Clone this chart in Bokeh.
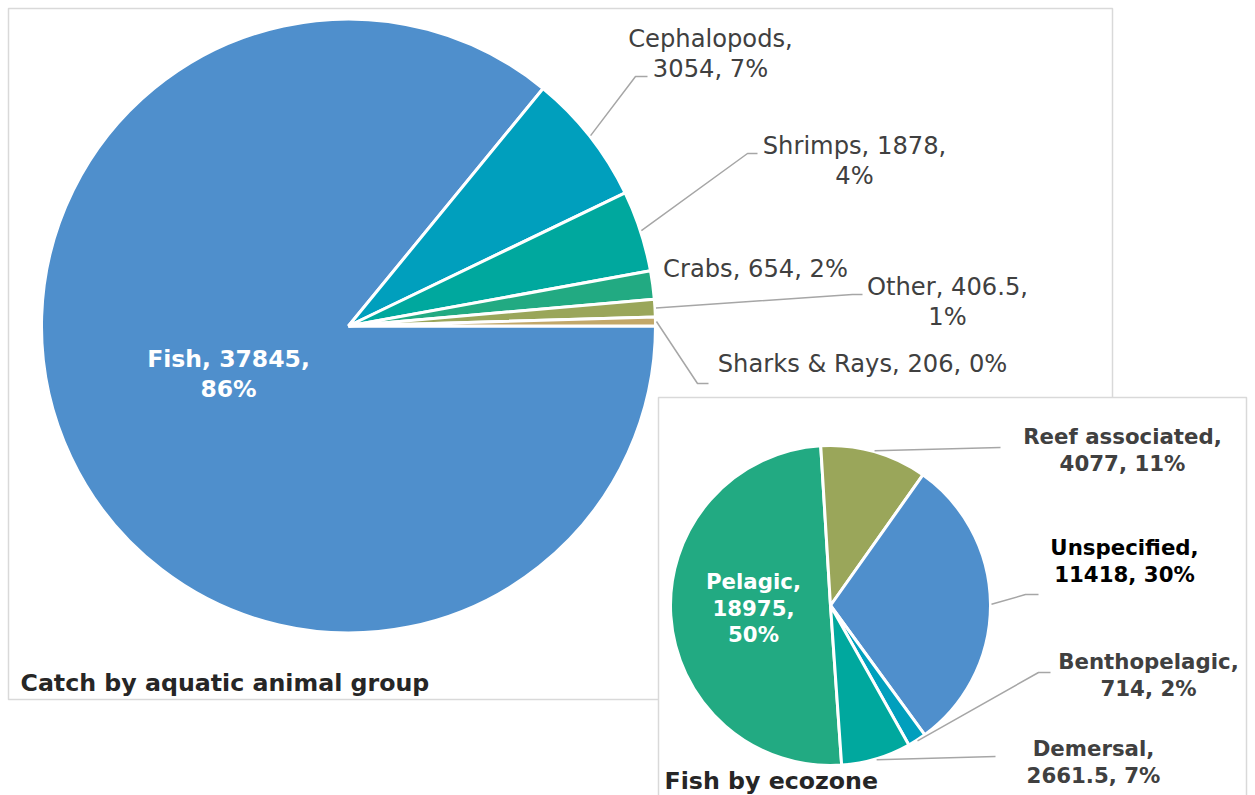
import math
from bokeh.plotting import figure
from bokeh.models import Range1d
from bokeh.embed import file_html
from bokeh.resources import INLINE
from bokeh.core.properties import value

# ---------------- data ----------------
groups = ["Fish", "Cephalopods", "Shrimps", "Crabs", "Other", "Sharks & Rays"]
group_catch = [37845, 3054, 1878, 654, 406.5, 206]
group_pct = ["86%", "7%", "4%", "2%", "1%", "0%"]
group_colors = ["#4F8FCC", "#009FBD", "#00A89E", "#22AA82", "#9AA65A", "#C2A86A"]

zones = ["Pelagic", "Reef associated", "Unspecified", "Benthopelagic", "Demersal"]
zone_catch = [18975, 4077, 11418, 714, 2661.5]
zone_pct = ["50%", "11%", "30%", "2%", "7%"]
zone_colors = ["#22AA82", "#9AA65A", "#4F8FCC", "#009FBD", "#00A89E"]

titles = ["Catch by aquatic animal group", "Fish by ecozone"]

# ---------------- layout ----------------
W, H = 1255, 795
FONT = "DejaVu Sans"


def Y(y):
    return H - y


p = figure(width=W, height=H, x_range=Range1d(0, W), y_range=Range1d(0, H),
           output_backend="svg", toolbar_location=None, min_border=0,
           x_axis_type=None, y_axis_type=None)
p.grid.visible = False
p.outline_line_color = None
p.background_fill_color = "white"
p.border_fill_color = "white"


def fmt(v):
    return f"{v:g}"


def pie(cx, cy, r, vals, colors, start_deg, lw):
    total = float(sum(vals))
    cum = 0.0
    starts, ends, mids = [], [], []
    for v in vals:
        a0 = math.radians(start_deg) - 2 * math.pi * cum / total
        cum += v
        a1 = math.radians(start_deg) - 2 * math.pi * cum / total
        starts.append(a1)
        ends.append(a0)
        mids.append((a0 + a1) / 2)
    p.wedge(x=[cx] * len(vals), y=[Y(cy)] * len(vals), radius=r,
            start_angle=starts, end_angle=ends, fill_color=colors,
            line_color="white", line_width=lw)
    return mids


def labels(names, vals, pcts, splits, anchors, spacing, size, colors, bold):
    for i, name in enumerate(names):
        parts = [name + ",", fmt(vals[i]) + ",", pcts[i]]
        k = 0
        lines = []
        for n in splits[i]:
            lines.append(" ".join(parts[k:k + n]))
            k += n
        ax, ay = anchors[i]
        p.text(x=[ax] * len(lines), y=[Y(ay + j * spacing) for j in range(len(lines))],
               text=lines, text_align="center", text_baseline="middle",
               text_font=value(FONT), text_font_size=size,
               text_font_style="bold" if bold else "normal",
               text_color=colors[i])


def leaders(cx, cy, r, mids, elbows):
    xs, ys = [], []
    for i, pts in elbows.items():
        sx = cx + r * math.cos(mids[i])
        sy = cy - r * math.sin(mids[i])
        xs.append([sx] + [q[0] for q in pts])
        ys.append([Y(sy)] + [Y(q[1]) for q in pts])
    p.multi_line(xs=xs, ys=ys, line_color="#A6A6A6", line_width=1.5)


# boxes
p.quad(left=8, right=1112, top=Y(8), bottom=Y(699), fill_color="white",
       line_color="#D9D9D9", line_width=1.5)

# big pie
bcx, bcy, br = 348, 325.5, 307
bmids = pie(bcx, bcy, br, group_catch, group_colors, 0, 3)
leaders(bcx, bcy, br + 1, bmids, {
    1: [(635, 76), (647, 76)],
    2: [(747, 153), (757, 153)],
    4: [(852, 294), (862, 294)],
    5: [(697, 383), (708, 383)],
})
labels(groups[:1], group_catch[:1], group_pct[:1], [[2, 1]], [(228, 358)],
       30.5, "23.5px", ["white"], True)
labels(groups[1:], group_catch[1:], group_pct[1:],
       [[1, 2], [2, 1], [3], [2, 1], [3]],
       [(710, 38), (854, 145), (755, 268), (947, 286), (862, 363)],
       30.5, "24.2px", ["#404040"] * 5, False)

p.text(x=[20], y=[Y(682)], text=[titles[0]], text_align="left", text_baseline="middle",
       text_font=value(FONT), text_font_size="23.7px", text_font_style="bold",
       text_color="#262626")

# small box and pie
p.quad(left=658, right=1246, top=Y(397), bottom=Y(810), fill_color="white",
       line_color="#D9D9D9", line_width=1.5)
scx, scy, sr = 830, 605, 160
smids = pie(scx, scy, sr, zone_catch, zone_colors, 90 - 176, 3)
leaders(scx, scy, sr + 1, smids, {
    1: [(1000, 447)],
    2: [(1025, 594), (1038, 594)],
    3: [(1038, 672), (1050, 672)],
    4: [(995, 756)],
})
labels(zones, zone_catch, zone_pct,
       [[1, 1, 1], [1, 2], [1, 2], [1, 2], [1, 2]],
       [(753, 581), (1122, 436), (1124, 547), (1148, 661), (1093, 748)],
       26.5, "21.3px", ["white", "#404040", "#000000", "#404040", "#404040"], True)

p.text(x=[664], y=[Y(780)], text=[titles[1]], text_align="left", text_baseline="middle",
       text_font=value(FONT), text_font_size="23.7px", text_font_style="bold",
       text_color="#262626")

open("out.html", "w").write(file_html(p, INLINE))
